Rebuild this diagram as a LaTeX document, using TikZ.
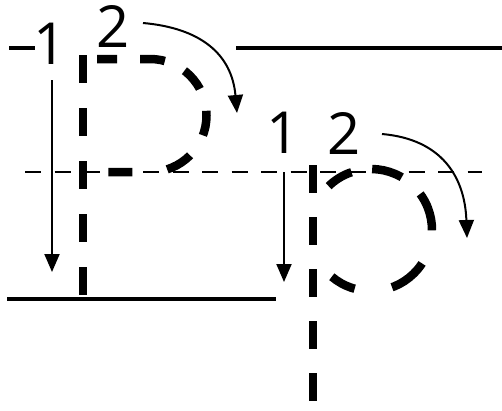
\documentclass[tikz,border=0pt]{standalone}
\usepackage{fontspec}
\setmainfont{Open Sans}
\usetikzlibrary{arrows.meta}
\tikzset{
  rule/.style={line width=4.5pt},
  midline/.style={line width=2pt,dash pattern=on 16pt off 13.5pt},
  trace/.style={line width=8.5pt},
  strokearrow/.style={line width=2pt,-{Triangle[length=18pt,width=15pt]}},
  digit/.style={font=\fontsize{58}{58}\selectfont,inner sep=0pt}
}

\begin{document}
\begin{tikzpicture}[x=1pt,y=-1pt]
  \useasboundingbox (0,0) rectangle (502,410);
  % writing lines
  \draw[rule] (9,48) -- (35,48);
  \draw[rule] (236,48) -- (502,48);
  \draw[rule] (7,299) -- (276,299);
  \draw[midline] (25,172) -- (482,172);
  % capital P
  \draw[trace,dash pattern=on 28pt off 25pt] (83,55) -- (83,297);
  \draw[trace,dash pattern=on 20pt off 23pt on 25pt off 22pt on 24pt off 23pt on 25pt off 24pt on 27pt off 35pt on 24pt off 60pt]
    (97,59) -- (150,59) arc[start angle=-90,end angle=90,radius=56.5] -- (108,172);
  % small p
  \coordinate (pbowl) at (371,230);
  \draw[trace,dash pattern=on 28pt off 24pt] (313,165) -- (313,405);
  \draw[trace,dash pattern=on 27pt off 21pt on 31pt off 25pt on 39pt off 35pt on 39pt off 38pt on 27pt off 60pt]
    ([shift={(-134:61)}]pbowl) arc[start angle=-134,end angle=130,radius=61];
  % stroke order
  \node[digit] (bigone) at (50,44) {1};
  \node[digit] (bigtwo) at (113,26) {2};
  \node[digit] (smallone) at (283,133) {1};
  \node[digit] (smalltwo) at (344,133) {2};
  \coordinate (bigonetop) at (52,80);
  \coordinate (bigonetip) at (52,272);
  \coordinate (bigtwotop) at (143,23);
  \coordinate (bigtwotip) at (237,113);
  \coordinate (smallonetop) at (284,172);
  \coordinate (smallonetip) at (284,282);
  \coordinate (smalltwotop) at (382,134);
  \coordinate (smalltwotip) at (467,238);
  \draw[strokearrow] (bigonetop) -- (bigonetip);
  \draw[strokearrow] (bigtwotop) to[out=-5,in=95,looseness=1.15] (bigtwotip);
  \draw[strokearrow] (smallonetop) -- (smallonetip);
  \draw[strokearrow] (smalltwotop) to[out=-5,in=92,looseness=1.15] (smalltwotip);
\end{tikzpicture}
\end{document}
